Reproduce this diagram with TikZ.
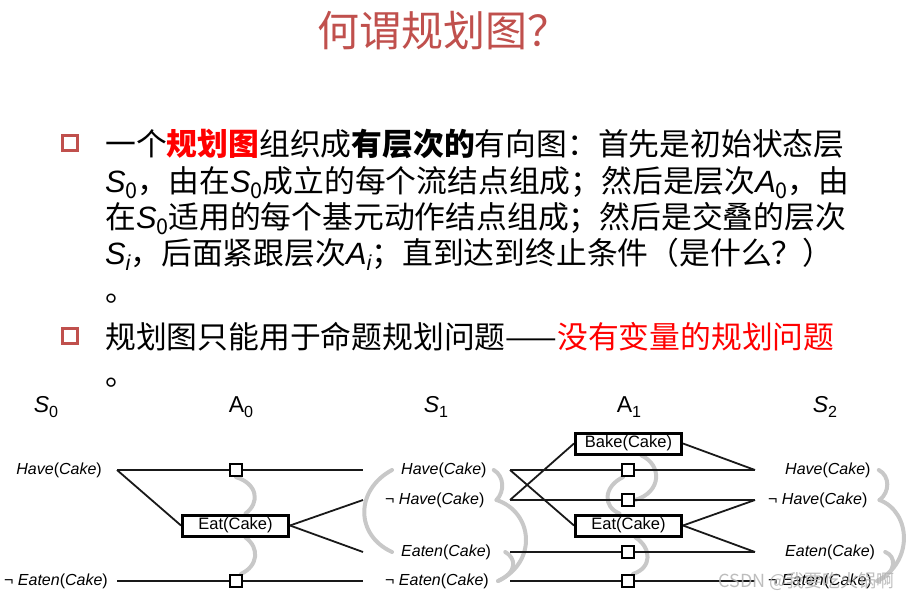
\documentclass[tikz,border=0pt]{standalone}
\usepackage{fontspec}
\usepackage{graphicx}
\setmainfont{Liberation Sans}
\newfontfamily\cjk{Noto Sans CJK SC}
\usetikzlibrary{positioning, calc}

\definecolor{titlered}{HTML}{C0504D}
\definecolor{mutexgray}{HTML}{C8C8C8}
\newcommand{\lowsub}[1]{\raisebox{-0.22em}{\scalebox{0.7}{#1}}}
\newcommand{\lit}[2][]{#1\textit{#2}(\textit{Cake})}

\begin{document}
\begin{tikzpicture}[
    x=1pt, y=-1pt,
    txt/.style={
        anchor=base west,
        inner sep=0pt,
        font=\cjk\fontsize{30.8}{36}\selectfont
    },
    bullet/.style={
        rectangle,
        draw=titlered,
        line width=2.4pt,
        minimum size=15pt,
        inner sep=0pt
    },
    layer/.style={
        anchor=base,
        inner sep=0pt,
        font=\fontsize{23}{26}\selectfont
    },
    fact/.style={
        inner sep=0pt,
        font=\fontsize{16}{18}\selectfont
    },
    act/.style={
        rectangle,
        draw,
        line width=3pt,
        fill=white,
        minimum width=106pt,
        minimum height=21pt,
        inner sep=0pt,
        font=\fontsize{16.5}{18}\selectfont
    },
    noop/.style={
        rectangle,
        draw,
        line width=2.2pt,
        fill=white,
        minimum size=12pt,
        inner sep=0pt
    },
    link/.style={
        line width=1.8pt,
        black!90
    },
    mutex/.style={
        line width=4pt,
        mutexgray,
        line cap=round
    }
]
    \useasboundingbox (0,0) rectangle (910,599);

    % Title
    \node[anchor=base, inner sep=0pt, text=titlered,
          font=\cjk\fontsize{42}{48}\selectfont] (title) at (443,47) {何谓规划图？};

    % Bullets
    \node[bullet] (b1) at (70,143) {};
    \node[txt] (l1) at (105,155) {一个\textbf{\textcolor{red}{规划图}}组织成\textbf{有层次的}有向图：首先是初始状态层};
    \node[txt] (l2) at (105,192) {{\rmfamily\itshape S}\lowsub{0}，由在{\rmfamily\itshape S}\lowsub{0}成立的每个流结点组成；然后是层次{\rmfamily\itshape A}\lowsub{0}，由};
    \node[txt] (l3) at (105,228) {在{\rmfamily\itshape S}\lowsub{0}适用的每个基元动作结点组成；然后是交叠的层次};
    \node[txt] (l4) at (105,264) {{\rmfamily\itshape S}\lowsub{\rmfamily\itshape i}，后面紧跟层次{\rmfamily\itshape A}\lowsub{\rmfamily\itshape i}；直到达到终止条件（是什么？）};
    \node[txt] (l5) at (105,301) {。};
    \node[bullet] (b2) at (70,336) {};
    \node[txt] (l6) at (105,348) {规划图只能用于命题规划问题——\textcolor{red}{没有变量的规划问题}};
    \node[txt] (l7) at (105,385) {。};

    % Layer labels
    \node[layer] (S0) at (46,412) {\textit{S}\lowsub{0}};
    \node[layer] (A0) at (241,412) {A\lowsub{0}};
    \node[layer] (S1) at (436,412) {\textit{S}\lowsub{1}};
    \node[layer] (A1) at (629,412) {A\lowsub{1}};
    \node[layer] (S2) at (825,412) {\textit{S}\lowsub{2}};

    % State S0
    \node[fact, anchor=east] (s0have) at (102,470) {\lit{Have}};
    \node[fact, anchor=east] (s0neaten) at (108,581) {\lit[¬ ]{Eaten}};
    \coordinate (h0) at (117,470);
    \coordinate (ne0) at (117,581);

    % State S1
    \node[fact, anchor=west] (s1have) at (401,470) {\lit{Have}};
    \node[fact, anchor=west] (s1nhave) at (385,500) {\lit[¬ ]{Have}};
    \node[fact, anchor=west] (s1eaten) at (401,552) {\lit{Eaten}};
    \node[fact, anchor=west] (s1neaten) at (385,581) {\lit[¬ ]{Eaten}};
    \coordinate (h1in) at (363,470);
    \coordinate (nh1in) at (363,500);
    \coordinate (e1in) at (363,552);
    \coordinate (ne1in) at (363,581);
    \coordinate (h1) at (510,470);
    \coordinate (nh1) at (510,500);
    \coordinate (e1) at (510,552);
    \coordinate (ne1) at (510,581);

    % State S2
    \node[fact, anchor=west] (s2have) at (785,470) {\lit{Have}};
    \node[fact, anchor=west] (s2nhave) at (768,500) {\lit[¬ ]{Have}};
    \node[fact, anchor=west] (s2eaten) at (785,552) {\lit{Eaten}};
    \node[fact, anchor=west] (s2neaten) at (768,581) {\lit[¬ ]{Eaten}};
    \coordinate (h2in) at (755,470);
    \coordinate (nh2in) at (755,500);
    \coordinate (e2in) at (755,552);
    \coordinate (ne2in) at (755,581);

    % Actions A0 and A1 (boxes placed first for anchors)
    \path (235.5,525.5) node[act] (eat0) {Eat(Cake)};
    \path (628.5,443.5) node[act] (bake1) {Bake(Cake)};
    \path (628.5,525.5) node[act] (eat1) {Eat(Cake)};
    \path (236,470) node[noop] (p0a) {};
    \path (236,581) node[noop] (p0b) {};
    \path (628,470) node[noop] (p1a) {};
    \path (628,500) node[noop] (p1b) {};
    \path (628,552) node[noop] (p1c) {};
    \path (628,581) node[noop] (p1d) {};

    % Mutex links
    \draw[mutex] (p0a.south) .. controls (258,484) and (260,503) .. ([xshift=10]eat0.north);
    \draw[mutex] ([xshift=10]eat0.south) .. controls (260,548) and (258,566) .. ([xshift=5]p0b.north);
    \draw[mutex] ([xshift=-9]s1have.west) .. controls (355,490) and (355,535) .. ([xshift=-9]s1eaten.west);
    \draw[mutex] ([xshift=7]s1have.east) .. controls (504,476) and (505,491) .. ([xshift=12]s1nhave.east);
    \draw[mutex] ([xshift=12]s1nhave.east) .. controls (533,512) and (538,562) .. ([xshift=9]s1neaten.east);
    \draw[mutex] ([xshift=14]s1eaten.east) .. controls (516,558) and (518,572) .. ([xshift=9]s1neaten.east);
    \draw[mutex] ([xshift=13]bake1.south) .. controls (662,465) and (662,492) .. (p1b.east);
    \draw[mutex] ([xshift=-5]p1a.south) .. controls (603,487) and (603,507) .. ([xshift=-9]eat1.north);
    \draw[mutex] ([xshift=7]eat1.south) .. controls (652,548) and (652,568) .. ([xshift=5]p1d.north);
    \draw[mutex] ([xshift=8]s2have.east) .. controls (890,476) and (890,492) .. ([xshift=12]s2nhave.east);
    \draw[mutex] ([xshift=12]s2nhave.east) .. controls (911,512) and (914,562) .. ([xshift=5]s2neaten.east);
    \draw[mutex] ([xshift=10]s2eaten.east) .. controls (896,556) and (898,572) .. ([xshift=5]s2neaten.east);

    % Links S0 -> A0 -> S1
    \draw[link] (h0) -- (p0a) -- (h1in);
    \draw[link] (ne0) -- (p0b) -- (ne1in);
    \draw[link] (h0) -- (eat0.west);
    \draw[link] (eat0.east) -- (nh1in);
    \draw[link] (eat0.east) -- (e1in);

    % Links S1 -> A1 -> S2
    \draw[link] (h1) -- (p1a) -- (h2in);
    \draw[link] (nh1) -- (p1b) -- (nh2in);
    \draw[link] (e1) -- (p1c) -- (e2in);
    \draw[link] (ne1) -- (p1d) -- (ne2in);
    \draw[link] (h1) -- (eat1.west);
    \draw[link] (nh1) -- (bake1.west);
    \draw[link] (bake1.east) -- (h2in);
    \draw[link] (eat1.east) -- (nh2in);
    \draw[link] (eat1.east) -- (e2in);

    % Redraw boxes on top
    \path (235.5,525.5) node[act] {Eat(Cake)};
    \path (628.5,443.5) node[act] {Bake(Cake)};
    \path (628.5,525.5) node[act] {Eat(Cake)};
    \foreach \p in {p0a, p0b, p1a, p1b, p1c, p1d}
        \path (\p) node[noop] {};

    % Watermark
    \node[anchor=east, inner sep=0pt, text=gray!60, opacity=0.85,
          font=\cjk\fontsize{18}{18}\selectfont] (wm) at (895,581) {CSDN @我要吃火锅啊};
\end{tikzpicture}
\end{document}
